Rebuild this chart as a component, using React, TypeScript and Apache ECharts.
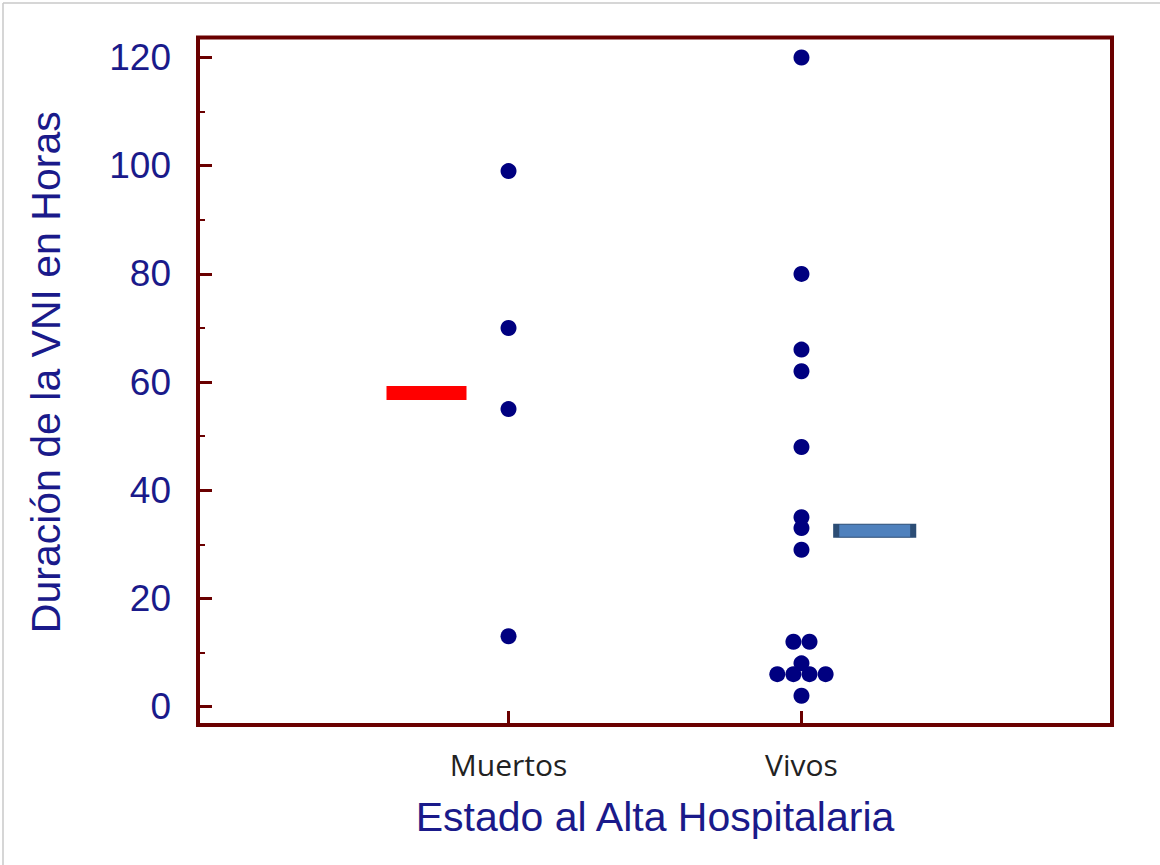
import React, { useEffect, useRef } from "react";
import * as echarts from "echarts";

const categories = ["Muertos", "Vivos"];
const yTicks = [0, 20, 40, 60, 80, 100, 120];
const yMinorTicks = [10, 30, 50, 70, 90, 110];
const muertosValues = [99, 70, 55, 13];
const muertosOffsets = [0, 0, 0, 0];
const vivosValues = [120, 80, 66, 62, 48, 35, 33, 29, 12, 12, 8, 6, 6, 6, 6, 2];
const vivosOffsets = [0, 0, 0, 0, 0, 0, 0, 0, -0.5, 0.5, 0, -1.5, -0.5, 0.5, 1.5, 0];
const meanValues = [58, 32.5];
const meanOffsets = [-0.28, 0.25];

const DOT_STEP = 0.055;
const MAROON = "#6a0000";
const NAVY_TEXT = "#1a1a8a";

export default function App() {
  const ref = useRef<HTMLDivElement>(null);

  useEffect(() => {
    if (!ref.current) return;
    const chart = echarts.init(ref.current, undefined, { renderer: "svg" });

    const muertosData = muertosValues.map((v, i) => [1 + muertosOffsets[i] * DOT_STEP, v]);
    const vivosData = vivosValues.map((v, i) => [2 + vivosOffsets[i] * DOT_STEP, v]);
    const catPos = categories.map((_, i) => i + 1);

    chart.setOption({
      animation: false,
      backgroundColor: "#ffffff",
      grid: {
        left: 198,
        right: 48,
        top: 37.5,
        bottom: 140,
        show: true,
        borderColor: MAROON,
        borderWidth: 4,
        containLabel: false,
      },
      xAxis: {
        type: "value",
        min: -0.06,
        max: 3.06,
        name: "Estado al Alta Hospitalaria",
        nameLocation: "middle",
        nameGap: 71,
        nameTextStyle: {
          fontFamily: "Liberation Sans, Arial, sans-serif",
          fontSize: 41,
          color: NAVY_TEXT,
        },
        axisLine: { show: false, onZero: false },
        splitLine: { show: false },
        axisTick: {
          show: true,
          inside: true,
          length: 14,
          customValues: catPos,
          lineStyle: { color: MAROON, width: 3 },
        },
        axisLabel: {
          show: true,
          customValues: catPos,
          margin: 24,
          fontFamily: "Open Sans, sans-serif",
          fontSize: 30,
          color: "#222222",
          formatter: (v: number) => categories[Math.round(v) - 1] ?? "",
        },
      },
      yAxis: [
        {
          type: "value",
          min: -3.4,
          max: 123.7,
          name: "Duración de la VNI en Horas",
          nameLocation: "middle",
          nameGap: 132,
          nameTextStyle: {
            fontFamily: "Liberation Sans, Arial, sans-serif",
            fontSize: 41,
            color: NAVY_TEXT,
            padding: [0, 0, 0, 18],
          },
          axisLine: { show: false, onZero: false },
          splitLine: { show: false },
          axisTick: {
            show: true,
            inside: true,
            length: 14,
            customValues: yTicks,
            lineStyle: { color: MAROON, width: 3 },
          },
          axisLabel: {
            show: true,
            customValues: yTicks,
            margin: 27,
            fontFamily: "Liberation Sans, Arial, sans-serif",
            fontSize: 37,
            color: NAVY_TEXT,
          },
        },
        {
          type: "value",
          min: -3.4,
          max: 123.7,
          position: "left",
          axisLine: { show: false, onZero: false },
          splitLine: { show: false },
          axisTick: {
            show: true,
            inside: true,
            length: 7,
            customValues: yMinorTicks,
            lineStyle: { color: MAROON, width: 2 },
          },
          axisLabel: { show: false, customValues: yMinorTicks },
        },
      ],
      graphic: [
        {
          type: "line",
          shape: { x1: 3, y1: 3, x2: 1160, y2: 3 },
          style: { stroke: "#c8c8c8", lineWidth: 1.5 },
          silent: true,
        },
        {
          type: "line",
          shape: { x1: 3, y1: 3, x2: 3, y2: 865 },
          style: { stroke: "#c8c8c8", lineWidth: 1.5 },
          silent: true,
        },
      ],
      series: [
        {
          type: "scatter",
          name: "Media Muertos",
          symbol: "rect",
          symbolSize: [80, 14],
          itemStyle: { color: "#ff0000", opacity: 1 },
          data: [[1 + meanOffsets[0], meanValues[0]]],
          z: 3,
        },
        {
          type: "scatter",
          name: "Media Vivos",
          symbol: "rect",
          symbolSize: [77, 13],
          itemStyle: { color: "#4f81bd", borderColor: "#2c4d75", borderWidth: 2.5, opacity: 1 },
          data: [[2 + meanOffsets[1], meanValues[1]]],
          z: 3,
        },
        {
          type: "scatter",
          name: "Muertos",
          symbol: "circle",
          symbolSize: 16,
          itemStyle: { color: "#000080", opacity: 1 },
          data: muertosData,
          z: 4,
        },
        {
          type: "scatter",
          name: "Vivos",
          symbol: "circle",
          symbolSize: 16,
          itemStyle: { color: "#000080", opacity: 1 },
          data: vivosData,
          z: 4,
        },
      ],
    });

    return () => chart.dispose();
  }, []);

  return (
    <div
      ref={ref}
      style={{ position: "fixed", left: 0, top: 0, width: 1160, height: 865 }}
    />
  );
}
